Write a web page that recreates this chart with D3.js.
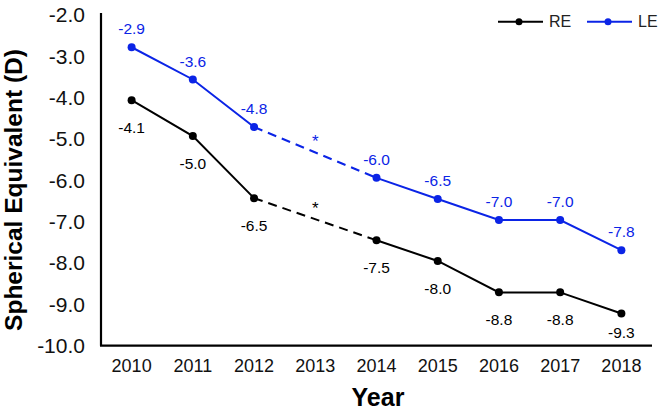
<!DOCTYPE html>
<html><head><meta charset="utf-8">
<script src="https://cdn.jsdelivr.net/npm/d3@7"></script>
<style>body{margin:0;background:#fff}svg{display:block}</style>
</head><body>
<script>
const years = ["2010","2011","2012","2013","2014","2015","2016","2017","2018"];
const reValues = [-4.06, -4.93, -6.43, null, -7.45, -7.95, -8.71, -8.71, -9.22];
const leValues = [-2.78, -3.56, -4.71, null, -5.94, -6.45, -6.96, -6.96, -7.69];
const reLabels = ["-4.1","-5.0","-6.5",null,"-7.5","-8.0","-8.8","-8.8","-9.3"];
const leLabels = ["-2.9","-3.6","-4.8",null,"-6.0","-6.5","-7.0","-7.0","-7.8"];
const yTicks = [-2,-3,-4,-5,-6,-7,-8,-9,-10];
const seriesNames = ["RE","LE"];

(function(){
const W=661,H=415;
const pLeft=101,pRight=652,pTop=15,pBottom=345.7;
const black="#000000", blue="#0b24e6";
const font="'Liberation Sans', Arial, sans-serif";

const svg=d3.select("body").append("svg").attr("width",W).attr("height",H);
const x=d3.scaleBand().domain(years).range([pLeft,pRight]).padding(0);
const cx=d=>x(d)+x.bandwidth()/2;
const y=d3.scaleLinear().domain([-10,-2]).range([pBottom,pTop]);

// axes
const yAxis=svg.append("g").attr("transform",`translate(${pLeft},0)`)
  .call(d3.axisLeft(y).tickValues(yTicks).tickSize(0).tickPadding(16).tickFormat(d=>d.toFixed(1)));
yAxis.select(".domain").attr("stroke","#000").attr("stroke-width",2.2).attr("d",`M0,${pTop-2}V${pBottom}`);
yAxis.selectAll("text").attr("font-family",font).attr("font-size",21).attr("fill","#111");

const xAxis=svg.append("g").attr("transform",`translate(0,${pBottom})`)
  .call(d3.axisBottom(x).tickSize(0).tickPadding(14));
xAxis.select(".domain").attr("stroke","#000").attr("stroke-width",2.2).attr("d",`M${pLeft-1},0H${pRight}`);
xAxis.selectAll("text").attr("font-family",font).attr("font-size",18).attr("fill","#111");

// titles
svg.append("text").attr("x",378).attr("y",406).attr("text-anchor","middle")
  .attr("font-family",font).attr("font-weight","bold").attr("font-size",25).text("Year");
svg.append("text").attr("transform","translate(22,190) rotate(-90)").attr("text-anchor","middle")
  .attr("font-family",font).attr("font-weight","bold").attr("font-size",24.5).text("Spherical Equivalent (D)");

function drawSeries(vals,labels,color,above){
  const pts=years.map((yr,i)=>({yr,v:vals[i],lab:labels[i]}));
  const line=d3.line().defined(d=>d.v!==null).x(d=>cx(d.yr)).y(d=>y(d.v));
  svg.append("path").datum(pts).attr("d",line).attr("fill","none").attr("stroke",color).attr("stroke-width",2);
  const valid=pts.filter(d=>d.v!==null);
  const gi=pts.findIndex(d=>d.v===null);
  const gapStart=pts[gi-1], gapEnd=pts[gi+1];
  svg.append("path").datum([gapStart,gapEnd]).attr("d",d3.line().x(d=>cx(d.yr)).y(d=>y(d.v)))
    .attr("fill","none").attr("stroke",color).attr("stroke-width",2).attr("stroke-dasharray","9,6");
  const midY=(y(gapStart.v)+y(gapEnd.v))/2;
  svg.append("text").attr("x",cx(pts[gi].yr)).attr("y",midY-5).attr("text-anchor","middle")
    .attr("font-family",font).attr("font-size",17).attr("fill",color).text("*");
  svg.selectAll(null).data(valid).enter().append("circle")
    .attr("cx",d=>cx(d.yr)).attr("cy",d=>y(d.v)).attr("r",4).attr("fill",color);
  svg.selectAll(null).data(valid).enter().append("text")
    .attr("x",d=>cx(d.yr))
    .attr("y",d=> above ? y(d.v)-18.5 : Math.min(y(d.v)+27, pBottom-13))
    .attr("dy","0.36em").attr("text-anchor","middle")
    .attr("font-family",font).attr("font-size",15.5).attr("fill",color).text(d=>d.lab);
}
drawSeries(reValues,reLabels,black,false);
drawSeries(leValues,leLabels,blue,true);

// legend
const legend=[{name:seriesNames[0],color:black,x0:498},{name:seriesNames[1],color:blue,x0:587}];
legend.forEach(l=>{
  const g=svg.append("g");
  g.append("line").attr("x1",l.x0).attr("x2",l.x0+45).attr("y1",21.7).attr("y2",21.7).attr("stroke",l.color).attr("stroke-width",2);
  g.append("circle").attr("cx",l.x0+21).attr("cy",21.7).attr("r",3.5).attr("fill",l.color);
  g.append("text").attr("x",l.x0+51).attr("y",21.7).attr("dy","0.36em").attr("font-family",font)
    .attr("font-size",16).attr("fill","#222").text(l.name);
});
})();
</script>
</body></html>
